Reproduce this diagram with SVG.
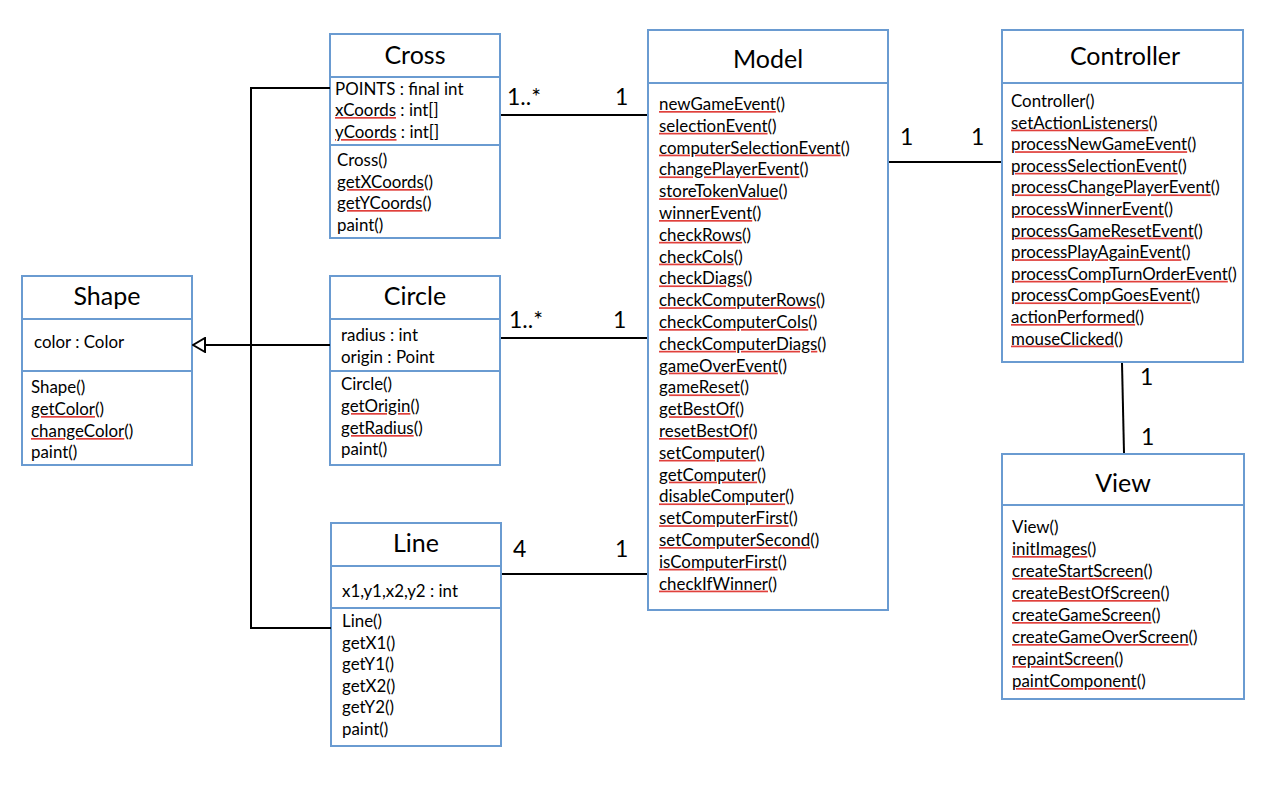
<svg xmlns="http://www.w3.org/2000/svg" width="1268" height="786" viewBox="0 0 1268 786">
<style>
.box{fill:#ffffff;stroke:#6a9bd1;stroke-width:2}
.div{stroke:#6a9bd1;stroke-width:2}
.title{font-family:Lato,"Liberation Sans",sans-serif;font-size:25px;fill:#000;text-anchor:middle}
.m{font-family:Lato,"Liberation Sans",sans-serif;font-size:16.9px;fill:#000}
.sp{text-decoration:underline;fill:#e0403c}
.sp tspan{fill:#000}
.mult{font-family:Lato,"Liberation Sans",sans-serif;font-size:23px;fill:#000}
.conn{stroke:#000;stroke-width:2;fill:none}
</style>
<defs>
<marker id="gen" viewBox="0 0 14 16" refX="13" refY="8" markerWidth="14" markerHeight="16" markerUnits="userSpaceOnUse" orient="auto">
<path d="M1,1 L13,8 L1,15 Z" fill="#fff" stroke="#000" stroke-width="2"/>
</marker>
</defs>
<rect width="1268" height="786" fill="#fff"/>

<g id="Shape">
<rect class="box" x="22" y="276" width="170" height="189"/>
<line class="div" x1="22" y1="319" x2="192" y2="319"/>
<line class="div" x1="22" y1="371" x2="192" y2="371"/>
<text class="title" x="107" y="305">Shape</text>
<text class="m" x="34" y="348">color : Color</text>
<text class="m" x="31" y="393">Shape()</text>
<text class="m" x="31" y="415"><tspan class="sp"><tspan>getColor</tspan></tspan>()</text>
<text class="m" x="31" y="437"><tspan class="sp"><tspan>changeColor</tspan></tspan>()</text>
<text class="m" x="31" y="458">paint()</text>
</g>

<g id="Cross">
<rect class="box" x="330" y="34" width="170" height="204"/>
<line class="div" x1="330" y1="77" x2="500" y2="77"/>
<line class="div" x1="330" y1="145" x2="500" y2="145"/>
<text class="title" x="415" y="64">Cross</text>
<text class="m" x="335" y="95">POINTS : final int</text>
<text class="m" x="335" y="116"><tspan class="sp"><tspan>xCoords</tspan></tspan> : int[]</text>
<text class="m" x="335" y="138"><tspan class="sp"><tspan>yCoords</tspan></tspan> : int[]</text>
<text class="m" x="337" y="166">Cross()</text>
<text class="m" x="337" y="188"><tspan class="sp"><tspan>getXCoords</tspan></tspan>()</text>
<text class="m" x="337" y="209"><tspan class="sp"><tspan>getYCoords</tspan></tspan>()</text>
<text class="m" x="337" y="231">paint()</text>
</g>

<g id="Circle">
<rect class="box" x="330" y="276" width="170" height="189"/>
<line class="div" x1="330" y1="319" x2="500" y2="319"/>
<line class="div" x1="330" y1="371" x2="500" y2="371"/>
<text class="title" x="415" y="305">Circle</text>
<text class="m" x="341" y="341">radius : int</text>
<text class="m" x="341" y="363">origin : Point</text>
<text class="m" x="341" y="390">Circle()</text>
<text class="m" x="341" y="412"><tspan class="sp"><tspan>getOrigin</tspan></tspan>()</text>
<text class="m" x="341" y="434"><tspan class="sp"><tspan>getRadius</tspan></tspan>()</text>
<text class="m" x="341" y="455">paint()</text>
</g>

<g id="Line">
<rect class="box" x="331" y="523" width="170" height="223"/>
<line class="div" x1="331" y1="566" x2="501" y2="566"/>
<line class="div" x1="331" y1="608" x2="501" y2="608"/>
<text class="title" x="416" y="552">Line</text>
<text class="m" x="342" y="597">x1,y1,x2,y2 : int</text>
<text class="m" x="342" y="627">Line()</text>
<text class="m" x="342" y="649">getX1()</text>
<text class="m" x="342" y="670">getY1()</text>
<text class="m" x="342" y="692">getX2()</text>
<text class="m" x="342" y="713">getY2()</text>
<text class="m" x="342" y="735">paint()</text>
</g>

<g id="Model">
<rect class="box" x="648" y="30" width="240" height="580"/>
<line class="div" x1="648" y1="83" x2="888" y2="83"/>
<text class="title" x="768" y="68">Model</text>
<text class="m" x="659" y="110"><tspan class="sp"><tspan>newGameEvent</tspan></tspan>()</text>
<text class="m" x="659" y="131.8"><tspan class="sp"><tspan>selectionEvent</tspan></tspan>()</text>
<text class="m" x="659" y="153.6"><tspan class="sp"><tspan>computerSelectionEvent</tspan></tspan>()</text>
<text class="m" x="659" y="175.4"><tspan class="sp"><tspan>changePlayerEvent</tspan></tspan>()</text>
<text class="m" x="659" y="197.2"><tspan class="sp"><tspan>storeTokenValue</tspan></tspan>()</text>
<text class="m" x="659" y="219"><tspan class="sp"><tspan>winnerEvent</tspan></tspan>()</text>
<text class="m" x="659" y="240.8"><tspan class="sp"><tspan>checkRows</tspan></tspan>()</text>
<text class="m" x="659" y="262.6"><tspan class="sp"><tspan>checkCols</tspan></tspan>()</text>
<text class="m" x="659" y="284.4"><tspan class="sp"><tspan>checkDiags</tspan></tspan>()</text>
<text class="m" x="659" y="306.2"><tspan class="sp"><tspan>checkComputerRows</tspan></tspan>()</text>
<text class="m" x="659" y="328"><tspan class="sp"><tspan>checkComputerCols</tspan></tspan>()</text>
<text class="m" x="659" y="349.8"><tspan class="sp"><tspan>checkComputerDiags</tspan></tspan>()</text>
<text class="m" x="659" y="371.6"><tspan class="sp"><tspan>gameOverEvent</tspan></tspan>()</text>
<text class="m" x="659" y="393.4"><tspan class="sp"><tspan>gameReset</tspan></tspan>()</text>
<text class="m" x="659" y="415.2"><tspan class="sp"><tspan>getBestOf</tspan></tspan>()</text>
<text class="m" x="659" y="437"><tspan class="sp"><tspan>resetBestOf</tspan></tspan>()</text>
<text class="m" x="659" y="458.8"><tspan class="sp"><tspan>setComputer</tspan></tspan>()</text>
<text class="m" x="659" y="480.6"><tspan class="sp"><tspan>getComputer</tspan></tspan>()</text>
<text class="m" x="659" y="502.4"><tspan class="sp"><tspan>disableComputer</tspan></tspan>()</text>
<text class="m" x="659" y="524.2"><tspan class="sp"><tspan>setComputerFirst</tspan></tspan>()</text>
<text class="m" x="659" y="546"><tspan class="sp"><tspan>setComputerSecond</tspan></tspan>()</text>
<text class="m" x="659" y="567.8"><tspan class="sp"><tspan>isComputerFirst</tspan></tspan>()</text>
<text class="m" x="659" y="589.6"><tspan class="sp"><tspan>checkIfWinner</tspan></tspan>()</text>
</g>

<g id="Controller">
<rect class="box" x="1002" y="30" width="241" height="332"/>
<line class="div" x1="1002" y1="83" x2="1243" y2="83"/>
<text class="title" x="1125" y="65">Controller</text>
<text class="m" x="1011" y="107">Controller()</text>
<text class="m" x="1011" y="128.6"><tspan class="sp"><tspan>setActionListeners</tspan></tspan>()</text>
<text class="m" x="1011" y="150.2"><tspan class="sp"><tspan>processNewGameEvent</tspan></tspan>()</text>
<text class="m" x="1011" y="171.8"><tspan class="sp"><tspan>processSelectionEvent</tspan></tspan>()</text>
<text class="m" x="1011" y="193.4"><tspan class="sp"><tspan>processChangePlayerEvent</tspan></tspan>()</text>
<text class="m" x="1011" y="215"><tspan class="sp"><tspan>processWinnerEvent</tspan></tspan>()</text>
<text class="m" x="1011" y="236.6"><tspan class="sp"><tspan>processGameResetEvent</tspan></tspan>()</text>
<text class="m" x="1011" y="258.2"><tspan class="sp"><tspan>processPlayAgainEvent</tspan></tspan>()</text>
<text class="m" x="1011" y="279.8"><tspan class="sp"><tspan>processCompTurnOrderEvent</tspan></tspan>()</text>
<text class="m" x="1011" y="301.4"><tspan class="sp"><tspan>processCompGoesEvent</tspan></tspan>()</text>
<text class="m" x="1011" y="323"><tspan class="sp"><tspan>actionPerformed</tspan></tspan>()</text>
<text class="m" x="1011" y="344.6"><tspan class="sp"><tspan>mouseClicked</tspan></tspan>()</text>
</g>

<g id="View">
<rect class="box" x="1002" y="454" width="242" height="245"/>
<line class="div" x1="1002" y1="505" x2="1244" y2="505"/>
<text class="title" x="1123" y="492">View</text>
<text class="m" x="1012" y="533">View()</text>
<text class="m" x="1012" y="555"><tspan class="sp"><tspan>initImages</tspan></tspan>()</text>
<text class="m" x="1012" y="577"><tspan class="sp"><tspan>createStartScreen</tspan></tspan>()</text>
<text class="m" x="1012" y="599"><tspan class="sp"><tspan>createBestOfScreen</tspan></tspan>()</text>
<text class="m" x="1012" y="621"><tspan class="sp"><tspan>createGameScreen</tspan></tspan>()</text>
<text class="m" x="1012" y="643"><tspan class="sp"><tspan>createGameOverScreen</tspan></tspan>()</text>
<text class="m" x="1012" y="665"><tspan class="sp"><tspan>repaintScreen</tspan></tspan>()</text>
<text class="m" x="1012" y="687"><tspan class="sp"><tspan>paintComponent</tspan></tspan>()</text>
</g>

<g id="connectors">
<polyline class="conn" points="330,88 251,88 251,628 331,628"/>
<line class="conn" x1="330" y1="345" x2="193" y2="345" marker-end="url(#gen)"/>
<line class="conn" x1="501" y1="115" x2="647" y2="115"/>
<line class="conn" x1="501" y1="338" x2="647" y2="338"/>
<line class="conn" x1="502" y1="574" x2="647" y2="574"/>
<line class="conn" x1="889" y1="162" x2="1001" y2="162"/>
<line class="conn" x1="1122" y1="363" x2="1124" y2="453"/>
<text class="mult" x="507" y="105">1..*</text>
<text class="mult" x="615" y="105">1</text>
<text class="mult" x="509" y="328">1..*</text>
<text class="mult" x="613" y="328">1</text>
<text class="mult" x="513" y="557">4</text>
<text class="mult" x="615" y="557">1</text>
<text class="mult" x="900" y="145">1</text>
<text class="mult" x="971" y="145">1</text>
<text class="mult" x="1140" y="385">1</text>
<text class="mult" x="1141" y="445">1</text>
</g>
</svg>
